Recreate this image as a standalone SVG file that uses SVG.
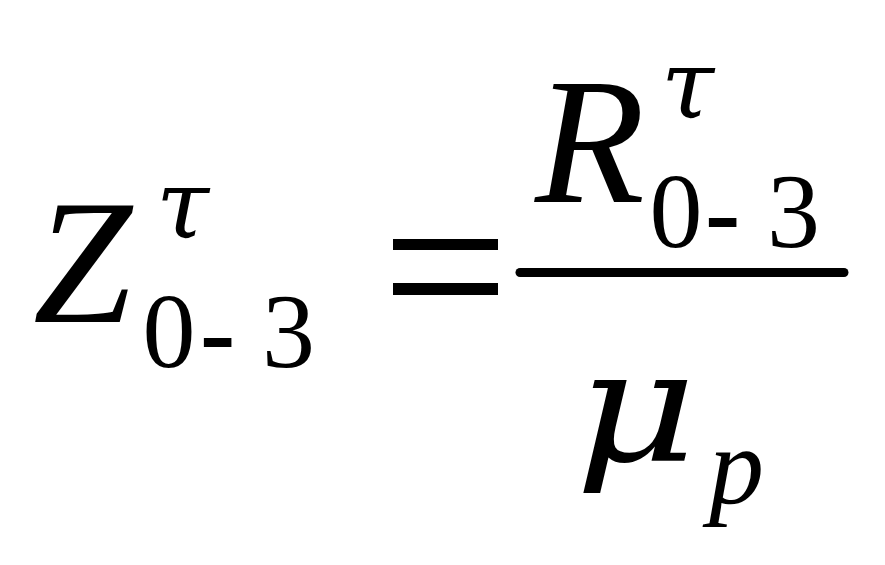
<svg xmlns="http://www.w3.org/2000/svg" width="885" height="565" viewBox="0 0 885 565">
<style>
.it{font-family:"Liberation Serif","Times New Roman",serif;font-style:italic;fill:#000}
.gr{font-family:"DejaVu Serif",serif;font-style:italic;fill:#000}
.rm{font-family:"Liberation Serif","Times New Roman",serif;fill:#000}
</style>
<rect width="885" height="565" fill="#fff"/>
<g id="lhs">
<text class="it" x="33" y="322" font-size="178">Z</text>
<text class="gr" x="156" y="238" font-size="96">τ</text>
<text class="rm" y="367" font-size="106"><tspan x="142.5">0</tspan><tspan x="200" font-weight="bold">-</tspan><tspan x="262">3</tspan></text>
</g>
<g id="equals">
<rect x="393" y="239" width="105" height="11"/>
<rect x="393" y="283" width="105" height="12"/>
</g>
<g id="numerator">
<text class="it" x="535" y="202" font-size="180">R</text>
<text class="gr" x="661" y="118" font-size="96">τ</text>
<text class="rm" y="247" font-size="106"><tspan x="649.5">0</tspan><tspan x="705" font-weight="bold">-</tspan><tspan x="767">3</tspan></text>
</g>
<g id="connectors">
<line x1="520" y1="272.5" x2="844" y2="272.5" stroke="#000" stroke-width="9" stroke-linecap="round"/>
</g>
<g id="denominator">
<text class="gr" transform="translate(575,461) scale(1.2,1)" x="0" y="0" font-size="156">μ</text>
<text class="it" x="709" y="504" font-size="110">p</text>
</g>
</svg>
